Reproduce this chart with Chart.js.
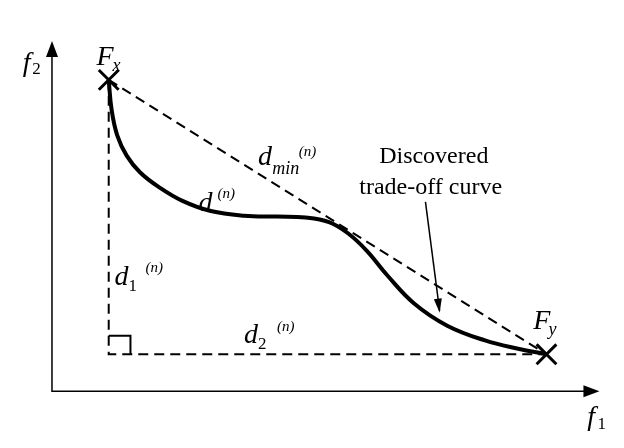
<!DOCTYPE html>
<html>
<head>
  <script src="https://cdn.jsdelivr.net/npm/chart.js@4/dist/chart.umd.min.js"></script>
  <style>body{margin:0;background:#fff}</style>
</head>
<body>
<div style="width:624px;height:448px"><canvas id="c"></canvas></div>
<script>
  // sketch coordinates (f1, f2) on a 624 x 448 drawing
  const curveX = [97, 100, 106, 116, 130, 150, 175, 205, 240, 275, 305, 330, 350, 370, 392, 420, 455, 495, 530, 560];
  const curveY = [68, 100, 128, 150, 168, 184, 199, 210, 215, 216, 217, 222, 234, 253, 280, 310, 334, 350, 359, 365];
  const endsX = [97, 560];
  const endsY = [68, 365];
  const cornerX = [97, 97, 560];
  const cornerY = [68, 365, 365];
  const boxX = [97, 120, 120];
  const boxY = [345, 345, 365];
  const axisX = [37, 37, 612];
  const axisY = [30, 405, 405];

  const pts = (xs, ys) => xs.map((x, i) => ({x: x, y: ys[i]}));
  const base = {showLine: true, pointRadius: 0, borderColor: '#000', fill: false};

  const deco = {
    id: 'deco',
    afterDatasetsDraw(chart) {
      const c = chart.ctx, sx = chart.scales.x, sy = chart.scales.y;
      const P = (x, y) => [sx.getPixelForValue(x), sy.getPixelForValue(y)];
      c.save();
      c.fillStyle = '#000'; c.strokeStyle = '#000';
      function head(x, y, ang, len, w) {
        const [px, py] = P(x, y);
        c.beginPath();
        c.moveTo(px, py);
        c.lineTo(px - len * Math.cos(ang) + w * Math.sin(ang), py - len * Math.sin(ang) - w * Math.cos(ang));
        c.lineTo(px - len * Math.cos(ang) - w * Math.sin(ang), py - len * Math.sin(ang) + w * Math.cos(ang));
        c.closePath(); c.fill();
      }
      head(37, 26, -Math.PI / 2, 16, 6);
      head(616, 405, 0, 16, 6);
      // pointer to curve
      let [ax, ay] = P(432, 200), [bx, by] = P(447, 318);
      c.lineWidth = 1.5; c.beginPath(); c.moveTo(ax, ay); c.lineTo(bx, by); c.stroke();
      head(447, 320, Math.atan2(by - ay, bx - ax), 14, 4);
      function t(s, x, y, size, it) {
        c.font = (it ? 'italic ' : '') + size + 'px "Liberation Serif", serif';
        const [px, py] = P(x, y); c.fillText(s, px, py);
      }
      t('f', 6, 58, 28, true); t('2', 16, 62, 17, false);
      t('f', 603, 442, 28, true); t('1', 614, 446, 17, false);
      t('F', 84, 52, 28, true); t('x', 101, 58, 18, true);
      t('F', 546, 338, 28, true); t('y', 562, 344, 18, true);
      t('d', 255, 160, 28, true); t('min', 270, 170, 18, true); t('(n)', 298, 150, 15, true);
      t('d', 192, 210, 28, true); t('(n)', 212, 196, 15, true);
      t('d', 103, 290, 28, true); t('1', 118, 296, 17, false); t('(n)', 136, 276, 15, true);
      t('d', 240, 353, 28, true); t('2', 255, 359, 17, false); t('(n)', 275, 340, 15, true);
      t('Discovered', 383, 158, 24, false);
      t('trade-off curve', 362, 192, 24, false);
      c.restore();
    }
  };

  new Chart(document.getElementById('c'), {
    type: 'scatter',
    data: {datasets: [
      Object.assign({}, base, {data: pts(axisX, axisY), borderWidth: 1.5}),
      Object.assign({}, base, {data: pts(endsX, endsY), borderWidth: 2, borderDash: [10, 6]}),
      Object.assign({}, base, {data: pts(cornerX, cornerY), borderWidth: 2, borderDash: [10, 6]}),
      Object.assign({}, base, {data: pts(boxX, boxY), borderWidth: 2}),
      Object.assign({}, base, {data: pts(curveX, curveY), borderWidth: 4, tension: 0.4}),
      {data: pts(endsX, endsY), showLine: false, pointStyle: 'crossRot', pointRadius: 14,
       borderColor: '#000', borderWidth: 3}
    ]},
    options: {
      responsive: true, maintainAspectRatio: false, animation: false,
      layout: {padding: 0},
      plugins: {legend: {display: false}, tooltip: {enabled: false}},
      scales: {
        x: {type: 'linear', min: 0, max: 624, display: false},
        y: {type: 'linear', min: 0, max: 448, reverse: true, display: false}
      }
    },
    plugins: [deco]
  });
</script>
</body>
</html>
